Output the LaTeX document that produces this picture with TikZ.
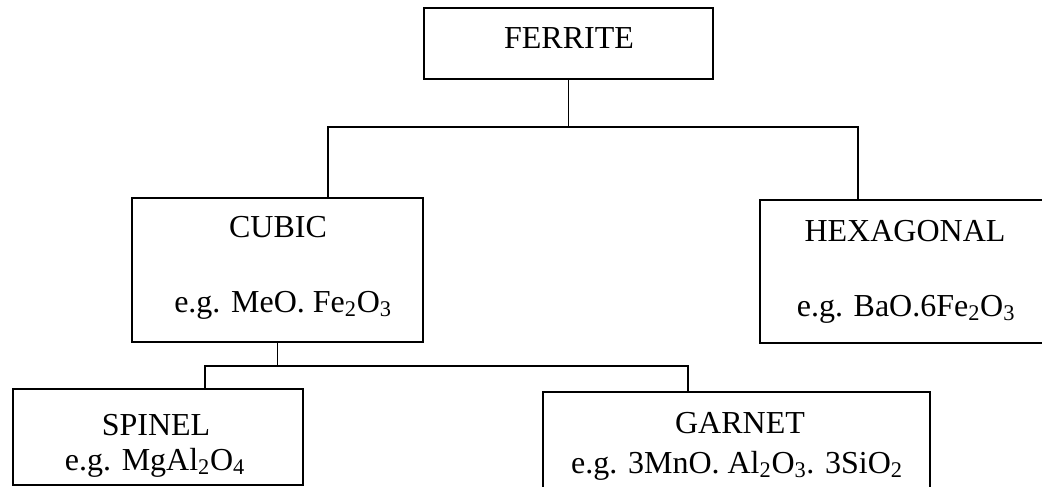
\documentclass[tikz,border=0pt]{standalone}
\usepackage{fontspec}
\setmainfont{Liberation Serif}
\begin{document}
\begin{tikzpicture}[x=0.75pt,y=-0.75pt,
  box/.style={draw=black, line width=1.4pt, inner sep=0pt, outer sep=0pt, fill=none},
  lbl/.style={anchor=base, inner sep=0pt, font=\fontsize{24}{29}\selectfont},
  link/.style={draw=black, line width=1.4pt}]
\clip (0,0) rectangle (1042,486);
\fill[white] (0,0) rectangle (1042,486);
% boxes
\node[box, minimum width=216.75pt, minimum height=53.25pt] (ferrite) at (568.5,43.5) {};
\node[box, minimum width=218.25pt, minimum height=108pt] (cubic) at (277.5,270) {};
\node[box, minimum width=217.5pt, minimum height=107.25pt] (hexa) at (905,271.5) {};
\node[box, minimum width=217.5pt, minimum height=72pt] (spinel) at (158,437) {};
\node[box, minimum width=290.25pt, minimum height=75pt] (garnet) at (736.5,442) {};
% texts
\node[lbl] (tferrite) at (569,48) {FERRITE};
\node[lbl] (tcubic) at (278,237) {CUBIC};
\node[lbl] (ecubic) at (283,312) {e.g. MeO. Fe\textsubscript{2}O\textsubscript{3}};
\node[lbl] (thexa) at (905,241) {HEXAGONAL};
\node[lbl] (ehexa) at (906,316) {e.g. BaO.6Fe\textsubscript{2}O\textsubscript{3}};
\node[lbl] (tspinel) at (156,435) {SPINEL};
\node[lbl] (espinel) at (155,470) {e.g. MgAl\textsubscript{2}O\textsubscript{4}};
\node[lbl] (tgarnet) at (740,433) {GARNET};
\node[lbl] (egarnet) at (737,473) {e.g. 3MnO. Al\textsubscript{2}O\textsubscript{3}. 3SiO\textsubscript{2}};
% connector coordinates
\coordinate (j1) at (568.5,127);
\coordinate (cx) at (328,0);
\coordinate (hx) at (858,0);
\coordinate (j2) at (277.5,366);
\coordinate (sx) at (205,0);
\coordinate (gx) at (688,0);
% connectors
\draw[link] (ferrite.south) -- (j1);
\draw[link] (cubic.north -| cx) |- (j1) -| (hexa.north -| hx);
\draw[link] (cubic.south) -- (j2);
\draw[link] (spinel.north -| sx) |- (j2) -| (garnet.north -| gx);
\end{tikzpicture}
\end{document}
